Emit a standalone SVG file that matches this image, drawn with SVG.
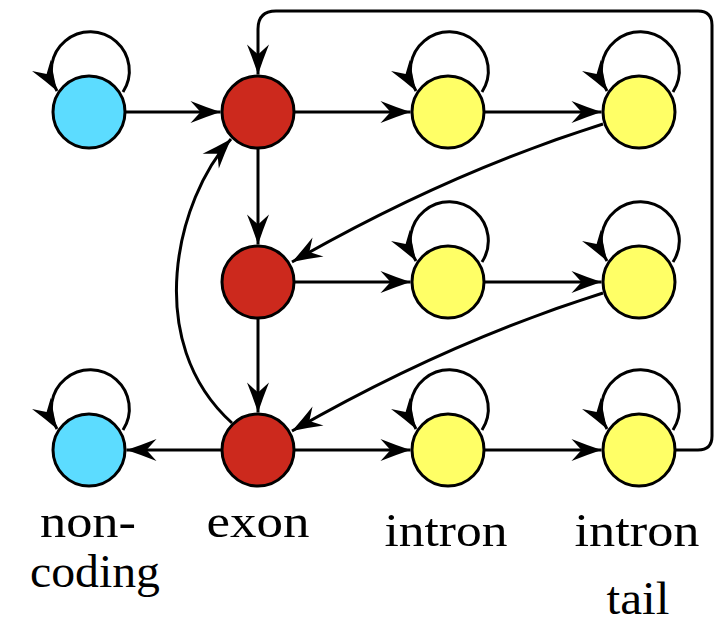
<svg xmlns="http://www.w3.org/2000/svg" width="715" height="623" viewBox="0 0 715 623">
<style>
.c{fill:none;stroke:#000;stroke-width:3;marker-end:url(#ah)}
.n{stroke:#000;stroke-width:3}
.nc{fill:#5cdcff}
.ex{fill:#cc291d}
.in{fill:#ffff66}
text{font-family:'Liberation Serif','Times New Roman',serif;font-size:46px;text-anchor:middle;fill:#000}
</style>
<defs>
<marker id="ah" markerUnits="userSpaceOnUse" markerWidth="34" markerHeight="26" refX="0" refY="0" orient="auto" overflow="visible">
<path d="M0,0 Q-15,-5 -30,-11 L-20,0 L-30,11 Q-15,5 0,0 Z" fill="#000"/>
</marker>
</defs>
<g id="connectors">
<path class="c" d="M126,112 H220.5"/>
<path class="c" d="M295,112 H410.5"/>
<path class="c" d="M485,112 H601.5"/>
<path class="c" d="M258,149 V244.5"/>
<path class="c" d="M258,319 V412.5"/>
<path class="c" d="M295,282 H410.5"/>
<path class="c" d="M485,282 H601.5"/>
<path class="c" d="M221,450 H126.5"/>
<path class="c" d="M295,450 H410.5"/>
<path class="c" d="M485,450 H601.5"/>
<path class="c" d="M603,124 Q447,173 292,262"/>
<path class="c" d="M603,293 Q447,342 292,431"/>
<path class="c" d="M232,423 C142,342 176,199 231,139"/>
<path class="c" d="M676,450 H698 Q712,450 712,436 V25 Q712,11 698,11 H276 Q258,11 258,29 V74.5"/>
<path class="c" d="M123,92 A39,39 0 1 0 57,91"/>
<path class="c" d="M123,430 A39,39 0 1 0 57,429"/>
<path class="c" d="M482,92 A39,39 0 1 0 416,91"/>
<path class="c" d="M482,262 A39,39 0 1 0 416,261"/>
<path class="c" d="M482,430 A39,39 0 1 0 416,429"/>
<path class="c" d="M673,92 A39,39 0 1 0 607,91"/>
<path class="c" d="M673,262 A39,39 0 1 0 607,261"/>
<path class="c" d="M673,430 A39,39 0 1 0 607,429"/>
</g>
<g id="noncoding1"><circle class="n nc" cx="89" cy="112" r="36"/></g>
<g id="exon1"><circle class="n ex" cx="258" cy="112" r="36"/></g>
<g id="intron1"><circle class="n in" cx="448" cy="112" r="36"/></g>
<g id="introntail1"><circle class="n in" cx="639" cy="112" r="36"/></g>
<g id="exon2"><circle class="n ex" cx="258" cy="282" r="36"/></g>
<g id="intron2"><circle class="n in" cx="448" cy="282" r="36"/></g>
<g id="introntail2"><circle class="n in" cx="639" cy="282" r="36"/></g>
<g id="noncoding2"><circle class="n nc" cx="89" cy="450" r="36"/></g>
<g id="exon3"><circle class="n ex" cx="258" cy="450" r="36"/></g>
<g id="intron3"><circle class="n in" cx="448" cy="450" r="36"/></g>
<g id="introntail3"><circle class="n in" cx="639" cy="450" r="36"/></g>
<g id="labels">
<text x="88" y="537" textLength="96" lengthAdjust="spacingAndGlyphs">non-</text>
<text x="95" y="587" textLength="130" lengthAdjust="spacingAndGlyphs">coding</text>
<text x="258" y="537" textLength="103" lengthAdjust="spacingAndGlyphs">exon</text>
<text x="446" y="546" textLength="123" lengthAdjust="spacingAndGlyphs">intron</text>
<text x="637" y="546" textLength="125" lengthAdjust="spacingAndGlyphs">intron</text>
<text x="638" y="614" textLength="63" lengthAdjust="spacingAndGlyphs">tail</text>
</g>
</svg>
